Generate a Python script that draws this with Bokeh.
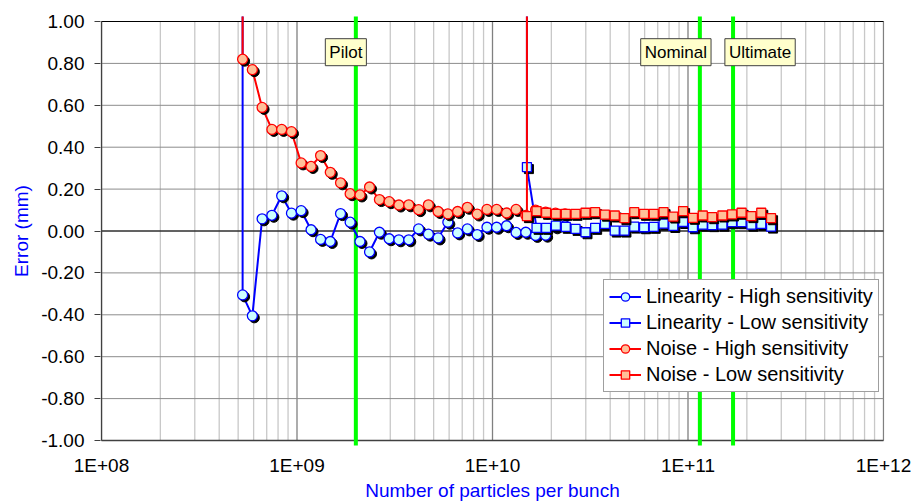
from bokeh.plotting import figure
from bokeh.models import (FixedTicker, CustomJSTickFormatter, NumeralTickFormatter,
                          Legend, LegendItem, Label, Range1d)
from bokeh.embed import file_html
from bokeh.resources import INLINE

# ---------------- data ----------------
# high sensitivity series (first point lies far above the chart)
hs_x = [5.27e8, 5.27e8, 5.91e8, 6.63e8, 7.44e8, 8.35e8, 9.37e8, 1.05e9, 1.18e9, 1.32e9,
        1.48e9, 1.67e9, 1.87e9, 2.10e9, 2.35e9, 2.64e9, 2.96e9, 3.32e9, 3.73e9, 4.19e9,
        4.70e9, 5.27e9, 5.91e9, 6.63e9, 7.44e9, 8.35e9, 9.37e9, 1.05e10, 1.18e10, 1.32e10,
        1.48e10, 1.66e10, 1.87e10, 2.10e10, 2.35e10]
lin_high = [2.0, -0.305, -0.405, 0.058, 0.075, 0.168, 0.085, 0.097, 0.006, -0.04,
            -0.05, 0.083, 0.042, -0.05, -0.1, -0.006, -0.037, -0.042, -0.042, 0.01,
            -0.015, -0.033, 0.042, -0.009, 0.01, -0.017, 0.018, 0.018, 0.025, -0.007,
            -0.006, -0.021, -0.02, 0.02, 0.025]
noise_high = [2.0, 0.82, 0.77, 0.59, 0.485, 0.485, 0.474, 0.325, 0.308, 0.36,
              0.28, 0.23, 0.178, 0.172, 0.21, 0.15, 0.14, 0.124, 0.125, 0.102,
              0.125, 0.093, 0.082, 0.093, 0.113, 0.081, 0.103, 0.103, 0.086, 0.103,
              0.075, 0.10, 0.09, 0.085, 0.082]

# low sensitivity series
ls_x = [1.50e10, 1.50e10, 1.68e10, 1.88e10, 2.11e10, 2.37e10, 2.66e10, 2.99e10, 3.35e10,
        3.76e10, 4.22e10, 4.73e10, 5.31e10, 5.96e10, 6.68e10, 7.50e10, 8.41e10, 9.44e10,
        1.06e11, 1.19e11, 1.33e11, 1.50e11, 1.68e11, 1.88e11, 2.11e11, 2.37e11, 2.66e11]
lin_low = [2.0, 0.305, 0.015, 0.015, 0.026, 0.02, 0.01, -0.006, 0.015, 0.034,
           0.002, 0.002, 0.021, 0.018, 0.02, 0.035, 0.024, 0.043, 0.018, 0.03,
           0.028, 0.03, 0.042, 0.042, 0.03, 0.034, 0.021]
noise_low = [2.0, 0.071, 0.095, 0.087, 0.082, 0.082, 0.082, 0.087, 0.09, 0.078,
             0.074, 0.061, 0.09, 0.082, 0.082, 0.09, 0.069, 0.095, 0.063, 0.074,
             0.066, 0.074, 0.079, 0.087, 0.071, 0.087, 0.061]

series_names = ["Linearity - High sensitivity", "Linearity - Low sensitivity",
                "Noise - High sensitivity", "Noise - Low sensitivity"]

ref_labels = ["Pilot", "Nominal", "Ultimate"]
ref_x = [2.0e9, 1.15e11, 1.7e11]

x_ticks = [1e8, 1e9, 1e10, 1e11, 1e12]
x_minor = [m * d for d in [1e8, 1e9, 1e10, 1e11] for m in range(2, 10)]
y_ticks = [-1.0, -0.8, -0.6, -0.4, -0.2, 0.0, 0.2, 0.4, 0.6, 0.8, 1.0]

x_title = "Number of particles per bunch"
y_title = "Error (mm)"

# ---------------- styling constants ----------------
FONT = "Liberation Sans"
PX_DEC = 195.5   # pixels per decade
PX_UNIT = 209.5  # pixels per mm
ex = 1.0 / PX_DEC
ey = 5.0 / PX_UNIT
BLUE = "#0000ff"
RED = "#ff0000"
CYAN = "#ccffff"
PEACH = "#ffc099"

p = figure(width=915, height=504, x_axis_type="log", output_backend="svg",
           toolbar_location=None,
           x_range=Range1d(10 ** (8 - ex), 10 ** (12 + ex)),
           y_range=Range1d(-1 - ey, 1 + ey),
           min_border_left=100, min_border_right=31, min_border_top=16,
           min_border_bottom=59)
p.outline_line_color = None
p.xgrid.grid_line_color = None
p.ygrid.grid_line_color = None

# axes
xa = p.xaxis[0]
xa.ticker = FixedTicker(ticks=x_ticks, minor_ticks=x_minor)
xa.formatter = CustomJSTickFormatter(
    code="const e = Math.round(Math.log10(tick)); return '1E+' + (e < 10 ? '0' : '') + e;")
xa.axis_line_color = None
xa.major_tick_line_color = None
xa.minor_tick_line_color = None
xa.major_label_standoff = 3
xa.major_label_text_font = FONT
xa.major_label_text_font_size = "19px"
xa.major_label_text_color = "black"
xa.axis_label = x_title
xa.axis_label_standoff = 1
xa.axis_label_text_font = FONT
xa.axis_label_text_font_size = "19px"
xa.axis_label_text_font_style = "normal"
xa.axis_label_text_color = BLUE

ya = p.yaxis[0]
ya.ticker = FixedTicker(ticks=y_ticks)
ya.formatter = NumeralTickFormatter(format="0.00")
ya.axis_line_color = None
ya.major_tick_out = 6
ya.major_tick_in = 0
ya.major_tick_line_color = "#404040"
ya.minor_tick_line_color = None
ya.major_label_standoff = 10
ya.major_label_text_font = FONT
ya.major_label_text_font_size = "19px"
ya.major_label_text_color = "black"
ya.axis_label = y_title
ya.axis_label_standoff = 6
ya.axis_label_text_font = FONT
ya.axis_label_text_font_size = "19px"
ya.axis_label_text_font_style = "normal"
ya.axis_label_text_color = BLUE

# grid lines (limited to the -1..1 band)
p.segment(x0=x_minor, x1=x_minor, y0=[-1.0] * len(x_minor), y1=[1.0] * len(x_minor),
          line_color="#c8c8c8", line_width=1.3)
p.segment(x0=x_ticks, x1=x_ticks, y0=[-1.0] * len(x_ticks), y1=[1.0] * len(x_ticks),
          line_color="#808080", line_width=1.3)
p.segment(x0=[1e8] * len(y_ticks), x1=[1e12] * len(y_ticks), y0=y_ticks, y1=y_ticks,
          line_color="#8c8c8c", line_width=1)
# frame / zero lines
p.segment(x0=[1e8, 1e8], x1=[1e12, 1e12], y0=[1.0, 0.0], y1=[1.0, 0.0],
          line_color="black", line_width=1)
p.segment(x0=[1e8, 1e8], x1=[1e12, 1e8], y0=[-1.0, -1.0], y1=[-1.0, 1.0],
          line_color="#404040", line_width=1.3)

# reference intensity lines
p.segment(x0=ref_x, x1=ref_x, y0=[-1.2] * len(ref_x), y1=[1.2] * len(ref_x),
          line_color="#00ff00", line_width=4)

sh_fx = 10 ** (2.0 / PX_DEC)
sh_dy = 2.0 / PX_UNIT


def series(x, y, color, fill, marker, size):
    ln = p.line(x, y, line_color=color, line_width=2)
    p.scatter([v * sh_fx for v in x], [v - sh_dy for v in y], marker=marker, size=size,
              fill_color="black", line_color="black")
    mk = p.scatter(x, y, marker=marker, size=size, fill_color=fill, line_color=color,
                   line_width=1.3)
    return [ln, mk]


r1 = series(hs_x, lin_high, BLUE, CYAN, "circle", 10)
r2 = series(ls_x, lin_low, BLUE, CYAN, "square", 9)
r3 = series(hs_x, noise_high, RED, PEACH, "circle", 10)
r4 = series(ls_x, noise_low, RED, PEACH, "square", 9)

legend = Legend(items=[LegendItem(label=n, renderers=r) for n, r in
                       zip(series_names, [r1, r2, r3, r4])],
                location=(503, 53), orientation="vertical")
legend.label_text_font = FONT
legend.label_text_font_size = "20px"
legend.label_text_color = "black"
legend.label_height = 21
legend.glyph_height = 21
legend.glyph_width = 32
legend.label_standoff = 5
legend.spacing = 3
legend.padding = 5
legend.margin = 0
legend.border_line_color = "#404040"
legend.border_line_width = 1
legend.background_fill_color = "white"
legend.background_fill_alpha = 1.0
p.add_layout(legend, "center")

label_offsets = [-10, -24, 27]
for txt, xv, off in zip(ref_labels, ref_x, label_offsets):
    p.add_layout(Label(x=xv, y=0.8535, x_offset=off, text=txt, text_align="center",
                       text_baseline="middle", text_font=FONT, text_font_size="17px",
                       text_color="black", background_fill_color="#ffffcc",
                       border_line_color="#404040", border_line_width=1, padding=4))

open("out.html", "w").write(file_html(p, INLINE))
